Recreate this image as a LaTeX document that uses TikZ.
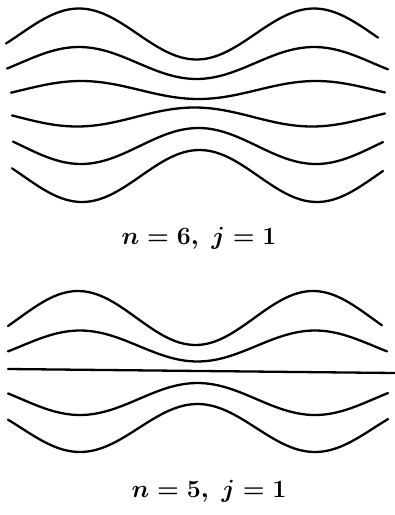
\documentclass[tikz,border=0pt]{standalone}
\tikzset{
  wave/.style={line width=2.3pt, line cap=round, line join=round},
  caption/.style={font=\fontsize{23}{27}\selectfont\boldmath}
}
% degrees per pixel for a period of 235
\newcommand{\wk}{1.53191}
\begin{document}
\begin{tikzpicture}[x=1pt, y=-1pt]
    \useasboundingbox (0,0) rectangle (395,515);

    % Upper set: n = 6
    \draw[wave] plot[domain=6:378, samples=90]  (\x, {34-25.5*cos(\wk*(\x-79))});
    \draw[wave] plot[domain=7:388, samples=90]  (\x, {63-16*cos(\wk*(\x-79))});
    \draw[wave] plot[domain=11:385, samples=90] (\x, {90-9*cos(\wk*(\x-81))});
    \draw[wave] plot[domain=12:385, samples=90] (\x, {117+9.5*cos(\wk*(\x-77))});
    \draw[wave] plot[domain=13:383, samples=90] (\x, {146+18*cos(\wk*(\x-81))});
    \draw[wave] plot[domain=12:383, samples=90] (\x, {176+26*cos(\wk*(\x-82))});

    \node[caption] (topcap) at (199,238) {$n=6,\; j=1$};

    % Lower set: n = 5
    \draw[wave] plot[domain=8:382, samples=90]  (\x, {318-27*cos(\wk*(\x-78))});
    \draw[wave] plot[domain=8:387, samples=90]  (\x, {346-15.5*cos(\wk*(\x-80))});
    \draw[wave] (8,369) -- (395,373);
    \draw[wave] plot[domain=8:388, samples=90]  (\x, {399+16*cos(\wk*(\x-80))});
    \draw[wave] plot[domain=8:388, samples=90]  (\x, {428+24*cos(\wk*(\x-80))});

    \node[caption] (botcap) at (209,491) {$n=5,\; j=1$};
\end{tikzpicture}
\end{document}
